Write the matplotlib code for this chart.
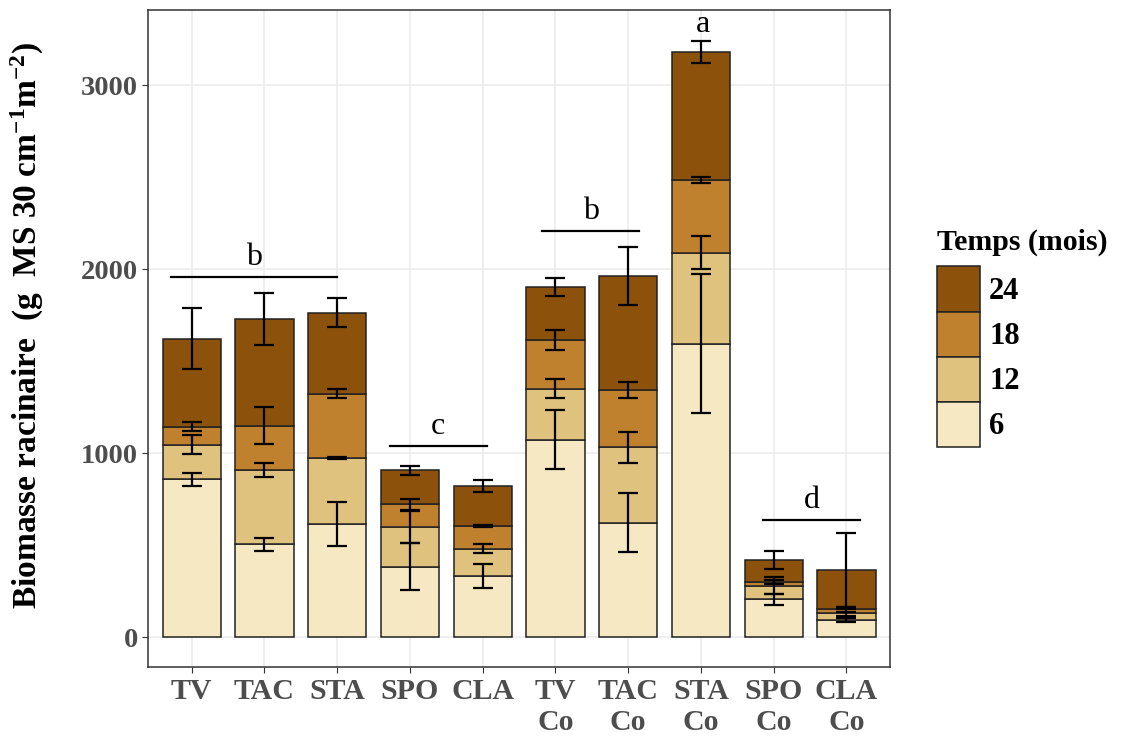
import numpy as np
import matplotlib
matplotlib.use('Agg')
import matplotlib.pyplot as plt
from matplotlib.patches import Patch

plt.rcParams['font.family'] = ['Liberation Serif', 'DejaVu Serif']
plt.rcParams['mathtext.fontset'] = 'custom'
plt.rcParams['mathtext.rm'] = 'Liberation Serif:bold'
plt.rcParams['mathtext.default'] = 'rm'

# data
treatments = ['TV', 'TAC', 'STA', 'SPO', 'CLA',
              'TV\nCo', 'TAC\nCo', 'STA\nCo', 'SPO\nCo', 'CLA\nCo']
times = ['6', '12', '18', '24']

# biomass added at each sampling time (stacked segments)
seg_6 = [857, 504, 614, 384, 333, 1074, 623, 1594, 205, 93]
seg_12 = [190, 407, 359, 216, 149, 277, 408, 496, 75, 40]
seg_18 = [96, 239, 351, 123, 123, 263, 313, 394, 20, 18]
seg_24 = [480, 580, 440, 183, 216, 290, 618, 695, 118, 213]

# error half-widths, centred on the cumulative top of each segment
err_6 = [37, 36, 121, 128, 63, 159, 158, 378, 28, 12]
err_12 = [53, 38, 5, 87, 24, 53, 83, 92, 45, 20]
err_18 = [25, 101, 24, 30, 5, 53, 42, 15, 12, 12]
err_24 = [164, 140, 80, 27, 34, 48, 158, 61, 48, 200]

colors = ['#F6E8C3', '#DFC27D', '#BF812D', '#8C510A']

# significance letters and the lines under them
groups = ['b', 'c', 'b', 'a', 'd']
line_x0 = [0.72, 3.72, 5.82, None, 8.85]
line_x1 = [3.0, 5.06, 7.15, None, 10.19]
line_y = [1957, 1040, 2207, None, 636]
text_x = [1.86, 4.39, 6.49, 8.03, 9.53]
text_y = [1985, 1068, 2235, 3250, 665]


def main():
    fig = plt.figure(figsize=(11.25, 7.4), dpi=100)
    ax = fig.add_axes([0.1316, 0.0986, 0.6596, 0.8879])

    x = np.arange(1, len(treatments) + 1)
    segs = [seg_6, seg_12, seg_18, seg_24]
    errs = [err_6, err_12, err_18, err_24]

    bottom = np.zeros(len(x))
    tops = []
    for seg, col in zip(segs, colors):
        ax.bar(x, seg, width=0.8, bottom=bottom, color=col,
               edgecolor='#222222', linewidth=1.1, zorder=2)
        bottom = bottom + np.array(seg)
        tops.append(bottom.copy())

    for top, err in zip(tops, errs):
        ax.errorbar(x, top, yerr=err, fmt='none', ecolor='black',
                    elinewidth=1.6, capsize=7.5, capthick=1.6, zorder=3)

    for g, a, b, ly, tx, ty in zip(groups, line_x0, line_x1, line_y,
                                   text_x, text_y):
        if a is not None:
            ax.plot([a, b], [ly, ly], color='black', lw=1.6, zorder=3)
        ax.text(tx, ty, g, ha='center', va='bottom', fontsize=23,
                color='black', zorder=4)

    ax.set_xlim(0.4, 10.6)
    ax.set_ylim(-162, 3408)
    ax.set_xticks(x)
    ax.set_xticklabels(treatments, fontsize=21.5, fontweight='bold',
                       color='#4D4D4D', linespacing=1.2)
    ax.set_yticks([0, 1000, 2000, 3000])
    ax.set_yticklabels(['0', '1000', '2000', '3000'], fontsize=20.5,
                       fontweight='bold', color='#4D4D4D')
    ax.tick_params(length=4, width=0.8, color='#333333')
    ax.tick_params(axis='x', pad=4)

    ax.grid(True, color='#EBEBEB', lw=1.1, zorder=0)
    ax.set_axisbelow(True)
    for s in ax.spines.values():
        s.set_color('#333333')
        s.set_linewidth(1.1)

    ax.set_ylabel(r'Biomasse racinaire  (g  MS 30 cm$^{-1}$m$^{-2}$)',
                  fontsize=24, fontweight='bold', color='black')
    ax.yaxis.set_label_coords(-0.137, 0.52)

    # legend: title as a separate text so the keys can sit lower
    fig.text(0.833, 0.672, 'Temps (mois)', fontsize=21.5,
             fontweight='bold', ha='left', va='center')
    handles = [Patch(facecolor=c, edgecolor='#222222', linewidth=1.1)
               for c in colors][::-1]
    fig.legend(handles, times[::-1], loc='upper left',
               bbox_to_anchor=(0.833, 0.64), frameon=False,
               prop={'size': 22, 'weight': 'bold'},
               handlelength=1.4, handleheight=1.9, labelspacing=0.0,
               handletextpad=0.3, borderaxespad=0, borderpad=0)

    fig.savefig('out.png', dpi=100)


if __name__ == "__main__":
    main()
